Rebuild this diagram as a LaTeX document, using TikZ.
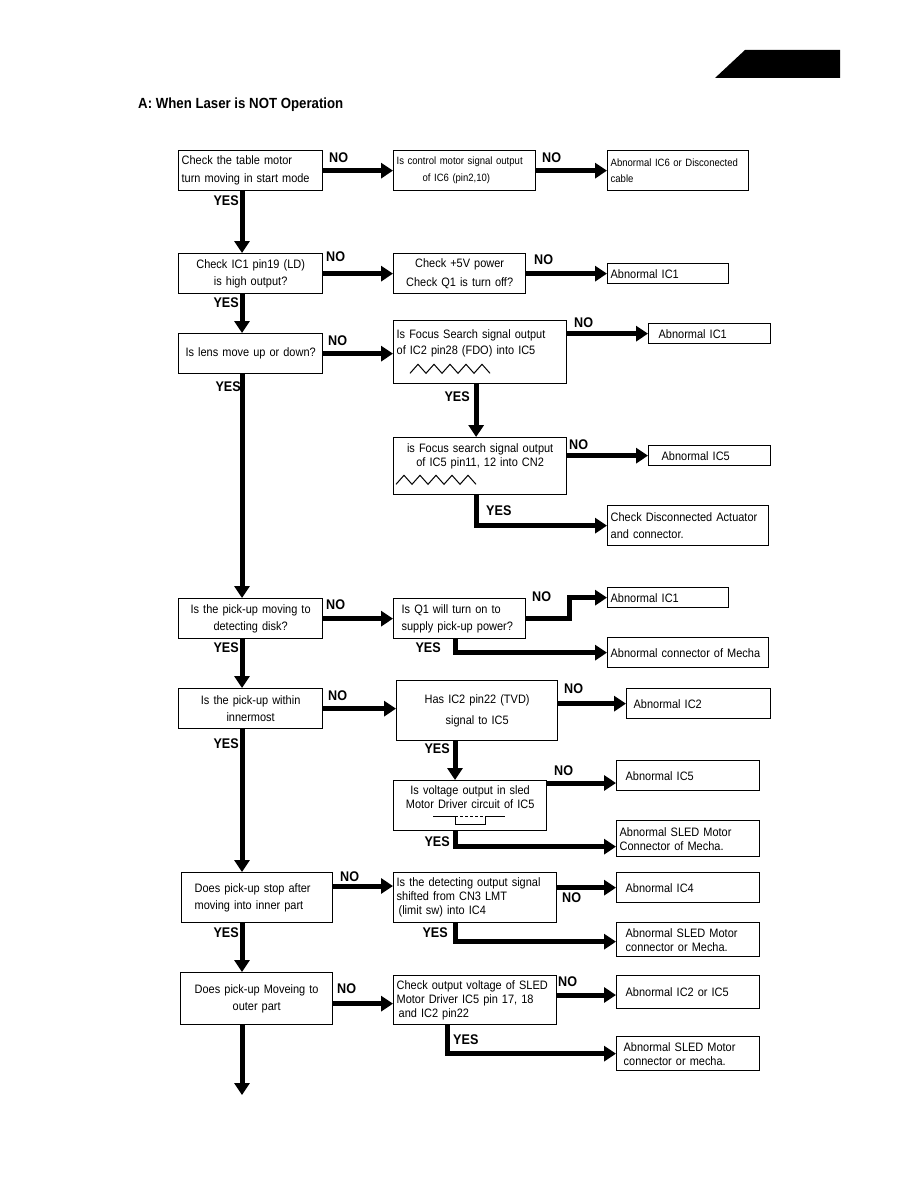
\documentclass[tikz,border=0pt]{standalone}
\usepackage{fontspec}
\setmainfont{Liberation Sans}[FakeStretch=0.9]
\usetikzlibrary{arrows.meta,calc}
\tikzset{
  bx/.style={draw, line width=1.3pt, anchor=north west, inner xsep=3pt, inner ysep=0pt,
    font=\fontsize{12.2}{17}\selectfont},
  arr/.style={line width=5pt, -{Triangle[width=15pt,length=12pt]}},
  lab/.style={anchor=west, inner sep=0pt, font=\fontsize{14}{14}\selectfont\bfseries},
  labl/.style={lab, anchor=east},
  wave/.style={line width=1pt},
}
\begin{document}
\begin{tikzpicture}[x=1pt,y=-1pt]
\useasboundingbox (0,0) rectangle (918,1188);
% header tab and title
\fill (715,78) -- (745,50) -- (840,50) -- (840,78) -- cycle;
\node[anchor=west, inner sep=0pt, font=\fontsize{14.7}{15}\selectfont\bfseries] (title) at (138,105) {A: When Laser is NOT Operation};
\coordinate (spine) at (242,0);
\coordinate (mid) at (455,0);

% row 1
\node[bx, text width=138pt, minimum height=40pt, align=left, font=\fontsize{12.2}{18}\selectfont] (a1) at (178,150) {Check the table motor\\turn moving in start mode};
\node[bx, text width=136pt, minimum height=40pt, align=left, font=\fontsize{10.6}{17}\selectfont] (b1) at (393,150) {Is control motor signal output\\\hspace*{26pt}of IC6 (pin2,10)};
\node[bx, text width=135pt, minimum height=40pt, align=left, font=\fontsize{10.6}{16}\selectfont] (c1) at (607,150) {Abnormal IC6 or Disconected\\cable};
\draw[arr] (a1.east) -- (b1.west);
\draw[arr] (b1.east) -- (c1.west);
\node[lab] (no1) at (329,158) {NO};
\node[lab] (no2) at (542,158) {NO};

% row 2
\node[bx, text width=138pt, minimum height=40pt, align=center] (a2) at (178,253) {Check IC1 pin19 (LD)\\is high output?};
\node[bx, text width=126pt, minimum height=40pt, align=center, font=\fontsize{12.2}{19}\selectfont] (b2) at (393,253) {Check +5V power\\Check Q1 is turn off?};
\node[bx, text width=115pt, minimum height=20pt, align=left] (c2) at (607,263) {Abnormal IC1};
\draw[arr] (a1.south -| spine) -- (a2.north -| spine);
\draw[arr] (a2.east) -- (b2.west);
\draw[arr] (b2.east) -- (c2.west);
\node[labl] (yes1) at (239,201) {YES};
\node[lab] (no3) at (326,257) {NO};
\node[lab] (no4) at (534,260) {NO};

% row 3
\node[bx, text width=138pt, minimum height=40pt, align=center] (a3) at (178,333) {Is lens move up or down?};
\node[bx, text width=167pt, minimum height=63pt, align=left, font=\fontsize{12.2}{16}\selectfont] (b3) at (393,320) {Is Focus Search signal output\\of IC2 pin28 (FDO) into IC5\\\strut};
\node[bx, text width=116pt, minimum height=20pt, align=left] (c3) at (648,323) {\hspace*{7pt}Abnormal IC1};
\draw[wave] ($(b3.south west)+(17,-11)$) \foreach \i in {1,...,5} { -- ++(8,-9) -- ++(8,9) };
\draw[arr] (a2.south -| spine) -- (a3.north -| spine);
\draw[arr] (a3.east) -- (a3.east -| b3.west);
\draw[arr] (b3.east |- c3.west) -- (c3.west);
\node[labl] (yes2) at (239,303) {YES};
\node[lab] (no5) at (328,341) {NO};
\node[lab] (no6) at (574,323) {NO};

% row 4
\node[bx, text width=167pt, minimum height=57pt, align=center, font=\fontsize{12.2}{14}\selectfont] (b4) at (393,437) {is Focus search signal output\\of IC5 pin11, 12 into CN2\\[3pt]\strut};
\node[bx, text width=116pt, minimum height=20pt, align=left] (c4) at (648,445) {\hspace*{10pt}Abnormal IC5};
\node[bx, text width=155pt, minimum height=40pt, align=left] (c4b) at (607,505) {Check Disconnected Actuator\\and connector.};
\draw[wave] ($(b4.south west)+(3,-11)$) \foreach \i in {1,...,5} { -- ++(8,-9) -- ++(8,9) };
\draw[arr] ($(b3.south)+(-4,0)$) -- ($(b4.north)+(-4,0)$);
\draw[arr] (b4.east |- c4.west) -- (c4.west);
\draw[arr] ($(b4.south)+(-4,0)$) |- (c4b.west);
\node[labl] (yes4) at (470,397) {YES};
\node[lab] (no7) at (569,445) {NO};
\node[lab] (yes5) at (486,511) {YES};

% row 5
\node[bx, text width=138pt, minimum height=40pt, align=center] (a5) at (178,598) {Is the pick-up moving to\\detecting disk?};
\node[bx, text width=126pt, minimum height=40pt, align=left] (b5) at (393,598) {\hspace*{5pt}Is Q1 will turn on to\\\hspace*{5pt}supply pick-up power?};
\node[bx, text width=115pt, minimum height=20pt, align=left] (c5) at (607,587) {Abnormal IC1};
\node[bx, text width=155pt, minimum height=30pt, align=left] (c5b) at (607,637) {Abnormal connector of Mecha};
\draw[arr] (a3.south -| spine) -- (a5.north -| spine);
\draw[arr] (a5.east) -- (b5.west);
\draw[arr] (b5.east) -- ++(43,0) |- (c5.west);
\draw[arr] (b5.south -| mid) |- (c5b.west);
\node[labl] (yes3) at (241,387) {YES};
\node[lab] (no8) at (326,605) {NO};
\node[lab] (no9) at (532,597) {NO};
\node[labl] (yes6) at (239,648) {YES};
\node[labl] (yes7) at (441,648) {YES};

% row 6
\node[bx, text width=138pt, minimum height=40pt, align=center] (a6) at (178,688) {Is the pick-up within\\innermost};
\node[bx, text width=155pt, minimum height=60pt, align=center, font=\fontsize{12.2}{21}\selectfont] (b6) at (396,680) {Has IC2 pin22 (TVD)\\signal to IC5};
\node[bx, text width=138pt, minimum height=30pt, align=left] (c6) at (626,688) {\hspace*{4pt}Abnormal IC2};
\draw[arr] (a5.south -| spine) -- (a6.north -| spine);
\draw[arr] (a6.east) -- (a6.east -| b6.west);
\draw[arr] (b6.east |- c6.west) -- (c6.west);
\node[lab] (no10) at (328,696) {NO};
\node[lab] (no11) at (564,689) {NO};

% row 7
\node[bx, text width=147pt, minimum height=50pt, align=center, font=\fontsize{12.2}{13.5}\selectfont] (b7) at (393,780) {Is voltage output in sled\\Motor Driver circuit of IC5\\\strut};
\node[bx, text width=137pt, minimum height=30pt, align=left] (c7) at (616,760) {\hspace*{6pt}Abnormal IC5};
\node[bx, text width=137pt, minimum height=36pt, align=left, font=\fontsize{12.2}{14}\selectfont] (c7b) at (616,820) {Abnormal SLED Motor\\Connector of Mecha.};
\draw[line width=0.8pt] ($(b7.south west)+(40,-15)$) -- ++(22,0) -- ++(0,8) -- ++(30,0) -- ++(0,-8) -- ++(20,0);
\draw[line width=0.8pt, dash pattern=on 3pt off 2pt] ($(b7.south west)+(62,-15)$) -- ++(30,0);
\coordinate (p7) at ($(b7.north east)+(0,3)$);
\coordinate (q7) at ($(c7b.west)+(0,8)$);
\draw[arr] (b6.south -| mid) -- (b7.north -| mid);
\draw[arr] (p7) -- (p7 -| c7.west);
\draw[arr] (b7.south -| mid) |- (q7);
\node[labl] (yes8) at (239,744) {YES};
\node[labl] (yes9) at (450,749) {YES};
\node[lab] (no12) at (554,771) {NO};
\node[labl] (yes10) at (450,842) {YES};

% row 8
\node[bx, text width=145pt, minimum height=50pt, align=left] (a8) at (181,872) {\hspace*{10pt}Does pick-up stop after\\\hspace*{10pt}moving into inner part};
\node[bx, text width=157pt, minimum height=50pt, align=left, font=\fontsize{12.2}{14}\selectfont] (b8) at (393,872) {Is the detecting output signal\\shifted from CN3 LMT\\\hspace*{2pt}(limit sw) into IC4};
\node[bx, text width=137pt, minimum height=30pt, align=left] (c8) at (616,872) {\hspace*{6pt}Abnormal IC4};
\node[bx, text width=137pt, minimum height=34pt, align=left, font=\fontsize{12.2}{14}\selectfont] (c8b) at (616,922) {\hspace*{6pt}Abnormal SLED Motor\\\hspace*{6pt}connector or Mecha.};
\coordinate (p8) at ($(a8.north east)+(0,14)$);
\coordinate (q8) at ($(c8b.west)+(0,2)$);
\draw[arr] (a6.south -| spine) -- (a8.north -| spine);
\draw[arr] (p8) -- (p8 -| b8.west);
\draw[arr] (b8.east |- c8.west) -- (c8.west);
\draw[arr] (b8.south -| mid) |- (q8);
\node[lab] (no13) at (340,877) {NO};
\node[lab] (no14) at (562,898) {NO};
\node[labl] (yes11) at (239,933) {YES};
\node[labl] (yes12) at (448,933) {YES};

% row 9
\node[bx, text width=146pt, minimum height=52pt, align=center] (a9) at (180,972) {Does pick-up Moveing to\\outer part};
\node[bx, text width=157pt, minimum height=49pt, align=left, font=\fontsize{12.2}{14}\selectfont] (b9) at (393,975) {Check output voltage of SLED\\Motor Driver IC5 pin 17, 18\\\hspace*{2pt}and IC2 pin22};
\node[bx, text width=137pt, minimum height=33pt, align=left] (c9) at (616,975) {\hspace*{6pt}Abnormal IC2 or IC5};
\node[bx, text width=137pt, minimum height=34pt, align=left, font=\fontsize{12.2}{14}\selectfont] (c9b) at (616,1036) {\hspace*{4pt}Abnormal SLED Motor\\\hspace*{4pt}connector or mecha.};
\coordinate (p9) at ($(a9.east)+(0,5)$);
\coordinate (r9) at ($(b9.north east)+(0,20)$);
\coordinate (s9) at ($(b9.south west)+(54,0)$);
\coordinate (endpt) at (242,1095);
\draw[arr] (a8.south -| spine) -- (a9.north -| spine);
\draw[arr] (p9) -- (p9 -| b9.west);
\draw[arr] (r9) -- (r9 -| c9.west);
\draw[arr] (s9) |- (c9b.west);
\draw[arr] (a9.south -| spine) -- (endpt);
\node[lab] (no15) at (337,989) {NO};
\node[lab] (no16) at (558,982) {NO};
\node[lab] (yes13) at (453,1040) {YES};
\end{tikzpicture}
\end{document}
